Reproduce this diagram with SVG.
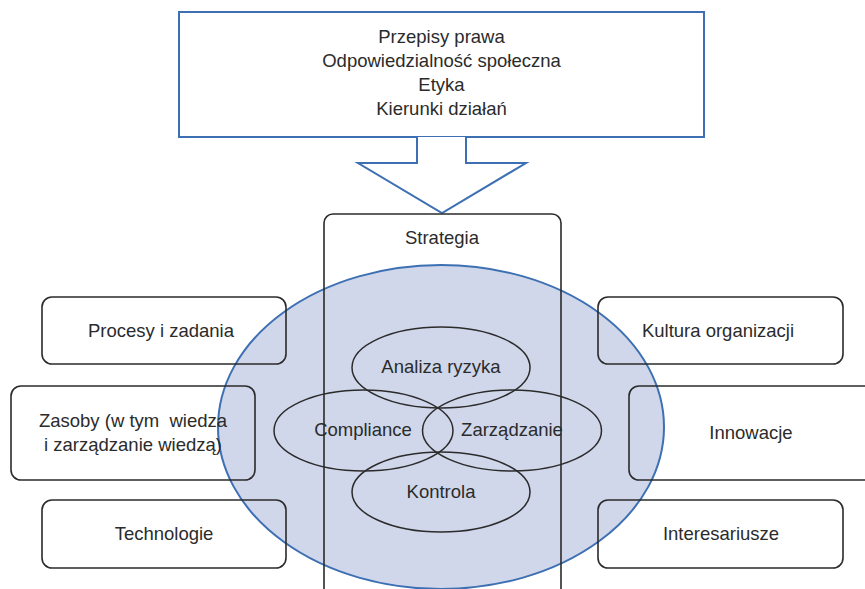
<svg xmlns="http://www.w3.org/2000/svg" width="865" height="589" viewBox="0 0 865 589">
<style>
text{font-family:"Liberation Sans",Arial,sans-serif;font-size:18.5px;fill:#2b2b2b;text-anchor:middle}
.box{fill:none;stroke:#2b2b2b;stroke-width:1.6}
.blue{fill:#fff;stroke:#3d6fb3;stroke-width:2}
.inner{fill:none;stroke:#2b2b2b;stroke-width:1.5}
</style>
<rect width="865" height="589" fill="#fff"/>
<g id="top">
<rect class="blue" x="179" y="12" width="525" height="125"/>
<text x="441.5" y="43">Przepisy prawa</text>
<text x="441.5" y="67">Odpowiedzialność społeczna</text>
<text x="441.5" y="91">Etyka</text>
<text x="441.5" y="115">Kierunki działań</text>
</g>
<g id="connectors">
<path class="blue" d="M417,137 V163 H358 L442,213 L526,163 H466 V137"/>
</g>
<g id="circle">
<ellipse cx="441" cy="427" rx="223" ry="162" fill="#d0d7ea" stroke="#3d6fb3" stroke-width="2"/>
</g>
<g id="strategia">
<rect class="box" x="324" y="214" width="237" height="385" rx="9"/>
<text x="442" y="244">Strategia</text>
</g>
<g id="procesy">
<rect class="box" x="42" y="297" width="244" height="67" rx="10"/>
<text x="161" y="337">Procesy i zadania</text>
</g>
<g id="zasoby">
<rect class="box" x="11" y="386" width="244" height="94" rx="10"/>
<text x="133" y="427" xml:space="preserve">Zasoby (w tym  wiedza</text>
<text x="133" y="451">i zarządzanie wiedzą)</text>
</g>
<g id="technologie">
<rect class="box" x="42" y="500" width="244" height="68" rx="10"/>
<text x="164" y="540">Technologie</text>
</g>
<g id="kultura">
<rect class="box" x="598" y="297" width="245" height="67" rx="10"/>
<text x="718" y="337">Kultura organizacji</text>
</g>
<g id="innowacje">
<rect class="box" x="629" y="386" width="250" height="94" rx="10"/>
<text x="751" y="439">Innowacje</text>
</g>
<g id="interesariusze">
<rect class="box" x="598" y="500" width="245" height="68" rx="10"/>
<text x="721" y="540">Interesariusze</text>
</g>
<g id="analiza">
<ellipse class="inner" cx="441" cy="367.5" rx="89" ry="40.5"/>
<text x="441" y="373">Analiza ryzyka</text>
</g>
<g id="compliance">
<ellipse class="inner" cx="363.5" cy="430.5" rx="89.5" ry="40.5"/>
<text x="363" y="436">Compliance</text>
</g>
<g id="zarzadzanie">
<ellipse class="inner" cx="512" cy="430.5" rx="89.5" ry="40.5"/>
<text x="512" y="436">Zarządzanie</text>
</g>
<g id="kontrola">
<ellipse class="inner" cx="441" cy="492" rx="89" ry="40"/>
<text x="441" y="498">Kontrola</text>
</g>
</svg>
